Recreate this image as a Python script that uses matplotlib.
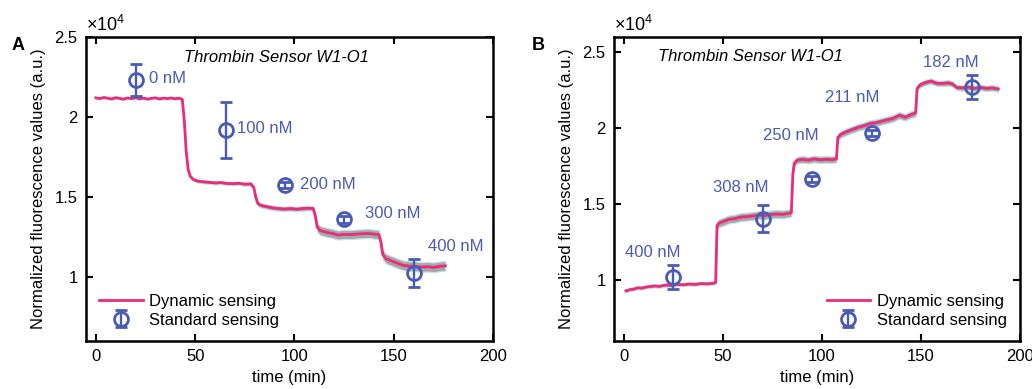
import numpy as np
import matplotlib
matplotlib.use("Agg")
import matplotlib.pyplot as plt

plt.rcParams['font.family'] = ['Liberation Sans', 'DejaVu Sans']
plt.rcParams['mathtext.fontset'] = 'custom'
plt.rcParams['mathtext.rm'] = 'Liberation Sans'

# ---- panel A data (fluorescence in units of 1e4) ----
tA = [0, 2, 4, 6, 8, 10, 12, 14, 16, 18, 20, 22, 24, 26, 28, 30, 32, 34, 36, 38, 40, 42,
      43.5, 44.5, 45.5, 46.5, 47.5,
      49, 51, 54, 57, 60, 63, 66, 69, 72, 75, 78,
      79.5, 80.5, 81.5, 83,
      86, 89, 92, 95, 98, 101, 104, 107,
      109.5, 110.5, 111.5, 113,
      116, 119, 122, 125, 128, 131, 134, 137, 140,
      142.5, 143.5, 144.5, 146,
      149, 152, 155, 158, 161, 164, 167, 170, 173, 176]
yA = [2.120, 2.115, 2.122, 2.117, 2.113, 2.121, 2.116, 2.112, 2.119, 2.115, 2.121,
      2.114, 2.118, 2.112, 2.117, 2.120, 2.113, 2.118, 2.115, 2.119, 2.114, 2.118,
      2.11, 1.98, 1.78, 1.67, 1.63,
      1.610, 1.600, 1.595, 1.592, 1.588, 1.590, 1.585, 1.583, 1.586, 1.580, 1.582,
      1.560, 1.500, 1.460, 1.448,
      1.440, 1.432, 1.428, 1.425, 1.428, 1.424, 1.428, 1.430,
      1.428, 1.380, 1.310, 1.290,
      1.280, 1.272, 1.262, 1.266, 1.265, 1.268, 1.270, 1.272, 1.268,
      1.265, 1.220, 1.140, 1.115,
      1.100, 1.085, 1.072, 1.068, 1.066, 1.062, 1.064, 1.060, 1.066, 1.070]
stepsA = [44, 80, 110, 143]
sdA = [0.006, 0.010, 0.014, 0.028, 0.030]

conc_A = ['0 nM', '100 nM', '200 nM', '300 nM', '400 nM']
std_tA = [20, 65.5, 95, 125, 160]
std_yA = [2.23, 1.92, 1.575, 1.36, 1.025]
std_eA = [0.10, 0.175, 0.02, 0.02, 0.09]

# ---- panel B data ----
tB = [1, 3, 5, 7, 9, 11, 13, 15,
      18, 21, 24, 27, 30, 33, 36, 39, 42, 45,
      46.3, 47, 48,
      50, 53, 56, 59, 62, 65, 68, 71, 74, 77, 80, 83,
      84.5, 85.3, 86, 87.5,
      90, 93, 96, 99, 102, 105,
      107.3, 108, 109.5,
      112, 115, 118, 121, 124, 127, 130, 133, 136, 139, 142, 145,
      147.3, 148, 149.5,
      152, 155, 158, 161, 164,
      166, 168,
      171, 174, 177, 180, 183, 186, 189]
yB = [0.930, 0.938, 0.942, 0.950, 0.948, 0.955, 0.958, 0.962,
      0.960, 0.968, 0.966, 0.972, 0.970, 0.975, 0.973, 0.978, 0.976, 0.980,
      0.985, 1.360, 1.375,
      1.385, 1.400, 1.405, 1.415, 1.418, 1.422, 1.428, 1.425, 1.432, 1.435, 1.433, 1.440,
      1.442, 1.700, 1.770, 1.790,
      1.795, 1.790, 1.798, 1.792, 1.795, 1.793,
      1.798, 1.940, 1.960,
      1.975, 1.990, 2.005, 2.015, 2.030, 2.035, 2.045, 2.055, 2.065, 2.085, 2.072, 2.090,
      2.100, 2.260, 2.285,
      2.300, 2.310, 2.295, 2.295, 2.298,
      2.290, 2.268,
      2.265, 2.270, 2.262, 2.268, 2.262, 2.265, 2.258]
stepsB = [46.5, 85, 107.5, 147.5]
sdB = [0.010, 0.026, 0.022, 0.022, 0.018]

conc_B = ['400 nM', '308 nM', '250 nM', '211 nM', '182 nM']
std_tB = [25, 70, 95, 125.5, 176]
std_yB = [1.02, 1.405, 1.666, 1.97, 2.27]
std_eB = [0.08, 0.09, 0.02, 0.02, 0.08]

# label anchor positions (left edge, centre) in data coords
lab_A = [(26.5, 2.24), (71, 1.925), (103, 1.575), (135.5, 1.394), (167.5, 1.19)]
lab_B = [(0.5, 1.179), (45, 1.607), (70, 1.95), (101.5, 2.205), (151, 2.43)]

pink = '#EE2A7B'
blue = '#4A5BB4'

fig = plt.figure(figsize=(10.32, 3.89), dpi=100)
axA = fig.add_axes([0.0833, 0.1234, 0.3944, 0.7815])
axB = fig.add_axes([0.5950, 0.1234, 0.3934, 0.7815])


def panel(ax, t, y, steps, sd, st, sy, se, conc, labs, ylim, title_xy, loc_legend):
    t = np.array(t)
    y = np.array(y)
    s = np.array(sd)[np.searchsorted(steps, t)]
    ax.fill_between(t, y - s, y + s, facecolor='#a4a8a8', edgecolor='#bfe3ea',
                    linewidth=0.8, zorder=2)
    ln, = ax.plot(t, y, color=pink, lw=2.0, zorder=3, label='Dynamic sensing')
    eb = ax.errorbar(st, sy, yerr=se, fmt='o', mfc='none', mec=blue, ms=10, mew=2.0,
                     ecolor=blue, elinewidth=1.7, capsize=4, capthick=1.7, zorder=4,
                     label='Standard sensing')
    for (lx, lyy), c in zip(labs, conc):
        ax.text(lx, lyy, c, color=blue, fontsize=12, ha='left', va='center')
    ax.text(title_xy[0], title_xy[1], 'Thrombin Sensor W1-O1', style='italic',
            fontsize=12, ha='center', va='center')
    ax.set_xlim(-5, 200)
    ax.set_ylim(*ylim)
    ax.set_xticks([0, 50, 100, 150, 200])
    ax.set_yticks([1, 1.5, 2, 2.5])
    ax.set_yticklabels(['1', '1.5', '2', '2.5'])
    ax.tick_params(direction='in', length=5, width=1.5, top=True, right=True,
                   labelsize=12, pad=6)
    for sp in ax.spines.values():
        sp.set_linewidth(1.8)
    ax.set_xlabel('time (min)', fontsize=12, labelpad=4)
    ax.set_ylabel('Normalized fluorescence values (a.u.)', fontsize=12, labelpad=6)
    ax.text(0.0, 1.005, r'$\times10^{4}$', transform=ax.transAxes, fontsize=13,
            ha='left', va='bottom')
    ax.legend(handles=[ln, eb], loc=loc_legend, frameon=False, fontsize=12,
              handlelength=2.6, handletextpad=0.4, labelspacing=0.2,
              borderaxespad=0.4)


panel(axA, tA, yA, stepsA, sdA, std_tA, std_yA, std_eA, conc_A, lab_A,
      (0.6, 2.5), (90.7, 2.37), 'lower left')
panel(axB, tB, yB, stepsB, sdB, std_tB, std_yB, std_eB, conc_B, lab_B,
      (0.6, 2.6), (64, 2.47), 'lower right')

fig.text(18 / 1032, 1 - 46 / 389, 'A', fontsize=13, fontweight='bold', ha='center', va='center')
fig.text(538 / 1032, 1 - 46 / 389, 'B', fontsize=13, fontweight='bold', ha='center', va='center')

fig.savefig('out.png', dpi=100)
